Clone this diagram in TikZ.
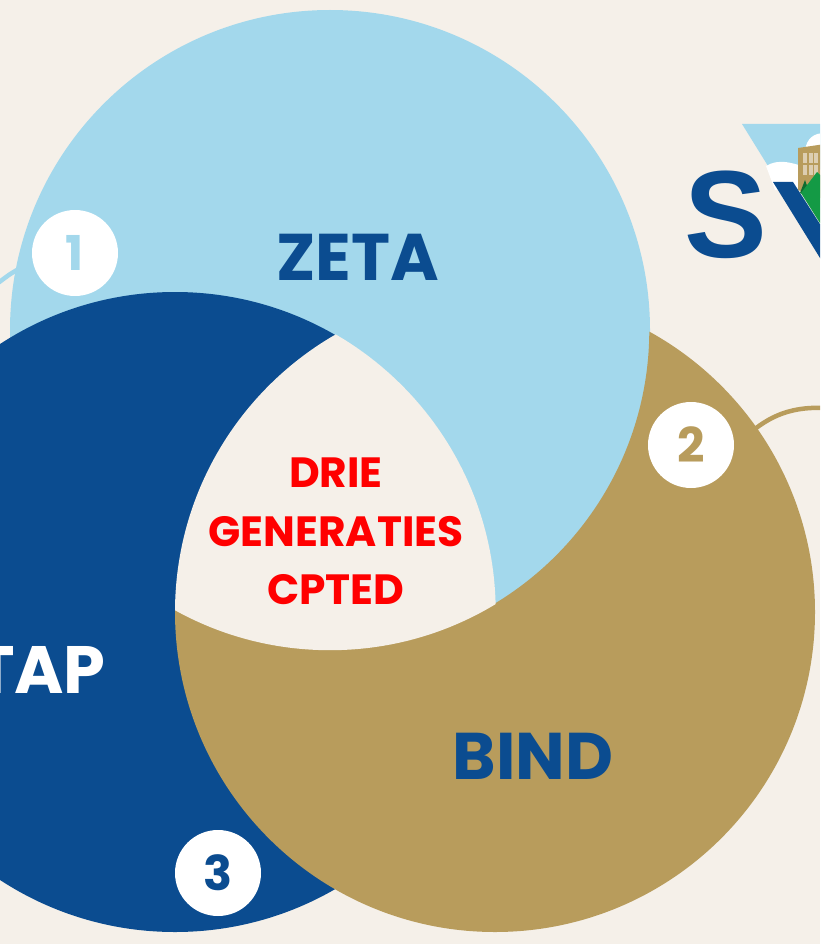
\documentclass[tikz,border=0pt]{standalone}
\usepackage{fontspec}
\setmainfont{Poppins}
\newfontfamily\logofont{Liberation Sans}
\definecolor{paper}{HTML}{F5F0E9}
\definecolor{zetablue}{HTML}{A3D8EC}
\definecolor{tapblue}{HTML}{0B4C90}
\definecolor{bindgold}{HTML}{B89C5C}
\definecolor{logogreen}{HTML}{149A45}

\begin{document}
\begin{tikzpicture}[
    x=1pt, y=-1pt,
    title/.style={
        font=\fontsize{66}{66}\selectfont\bfseries,
        text=tapblue,
        inner sep=0pt
    },
    center text/.style={
        font=\fontsize{42.3}{58.5}\selectfont\bfseries,
        text=red,
        align=center,
        inner sep=0pt
    },
    badge/.style={
        circle,
        fill=white,
        minimum size=86pt,
        inner sep=0pt,
        font=\fontsize{48}{48}\selectfont\bfseries
    },
    lead/.style={
        line width=4.5pt,
        line cap=round
    }
]
    \useasboundingbox (0,0) rectangle (820,944);
    \clip (0,0) rectangle (820,944);
    \fill[paper] (0,0) rectangle (820,944);

    \coordinate (zetac) at (330,330);
    \coordinate (bindc) at (495,612);
    \coordinate (tapc) at (175,612);

    % Logo
    \fill[zetablue] (742,124) -- (825,124) -- (825,170) -- (768,166) -- cycle;
    \fill[white] (766,166) .. controls (778,159) and (790,160) .. (825,175) -- (825,190) -- (775,190) -- cycle;
    \fill[white] (805,150) .. controls (807,138) and (814,133) .. (825,133) -- (825,150) -- cycle;
    \node (logos) [anchor=base west, inner sep=0pt, text=tapblue, font=\logofont\fontsize{124}{124}\selectfont\bfseries] at (684,257) {S};
    \fill[tapblue] (773,182) -- (793,182) -- (825,232) -- (825,264) -- (820,258) -- cycle;
    \fill[bindgold] (798,148) -- (825,144) -- (825,200) -- (798,190) -- cycle;
    \foreach \wx in {803,808.5,814} {
        \foreach \wy in {153,165} {
            \fill[paper!60!bindgold] (\wx,\wy) rectangle ++(4,10);
        }
    }
    \fill[logogreen!70!black] (800,193) -- (805,180) -- (811,197) -- cycle;
    \fill[logogreen] (801,193) -- (817,172) -- (825,180) -- (825,231) -- cycle;

    % Cirkels
    \fill[zetablue] (zetac) circle (320pt);
    \fill[tapblue] (tapc) circle (320pt);
    \begin{scope}[even odd rule]
        \clip (-200,-200) rectangle (1100,1200) (zetac) circle (319.3pt);
        \fill[bindgold] (bindc) circle (320pt);
    \end{scope}
    \begin{scope}
        \clip (zetac) circle (320.2pt);
        \clip (tapc) circle (320.7pt);
        \fill[paper] (bindc) circle (320pt);
    \end{scope}

    % Teksten
    \node (zeta) [title] at (358,257) {ZETA};
    \node (bind) [title] at (533,756) {BIND};
    \node (tap) [title, font=\fontsize{67}{67}\selectfont\bfseries, text=white, anchor=east] at (106,670) {TAP};
    \node (midden) [center text] at (336,531.5) {DRIE\\GENERATIES\\CPTED};

    % Nummers met lijntjes
    \node (een) [badge, text=zetablue] at (75,253) {1};
    \node (twee) [badge, text=bindgold] at (691,445) {2};
    \node (drie) [badge, text=tapblue] at (218,873) {3};
    \coordinate (eenend) at (-6,286);
    \coordinate (tweeend) at (826,408);
    \draw [lead, draw=zetablue] (een) ++(-58,17) .. controls (10,274) .. (eenend);
    \draw [lead, draw=bindgold] (twee) ++(54,-8) .. controls (765,420) and (785,406) .. (tweeend);
\end{tikzpicture}
\end{document}
